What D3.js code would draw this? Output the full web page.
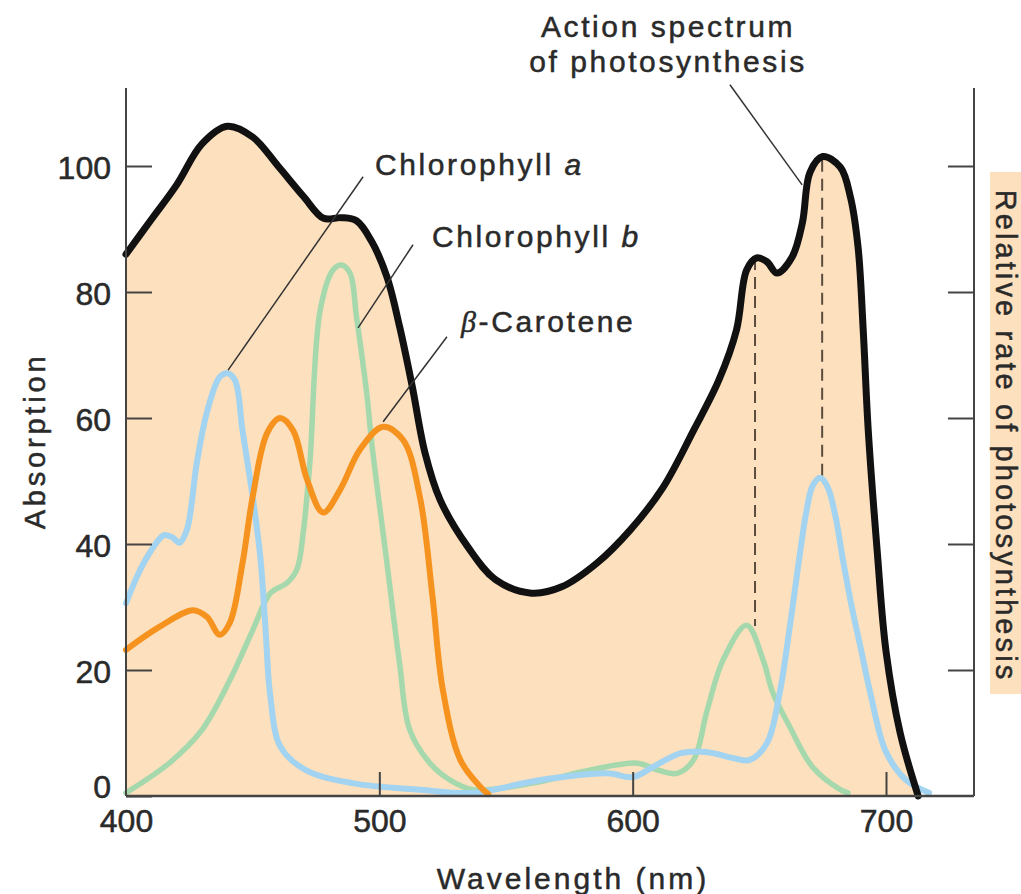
<!DOCTYPE html>
<html>
<head>
<meta charset="utf-8">
<script src="https://cdn.jsdelivr.net/npm/d3@7"></script>
<style>
  body { margin: 0; background: #fff; }
  text { font-family: "Liberation Sans", Arial, sans-serif; fill: #2a2a2a; stroke: #2a2a2a; stroke-width: 0.5px; }
</style>
</head>
<body>
<svg id="chart" width="1021" height="894"></svg>
<script>
// wavelength (nm), absorption / relative rate
const actionSpectrum = [
  [400, 86], [410, 91.5], [420, 97], [430, 103.5], [440, 106.3], [450, 104.6],
  [460, 100], [470, 95.2], [478, 91.7], [485, 91.8], [491, 91.3], [497, 88],
  [503, 82.4], [508, 74.5], [513, 65], [518, 54.5], [524, 47], [535, 39.5],
  [546, 34.3], [560, 32.2], [572, 33.2], [586, 37], [599, 42.2], [612, 49],
  [624, 58], [634, 66], [641, 74], [645, 83.5], [649, 85.4], [653, 84.8],
  [657, 83], [663, 85.6], [667, 91], [670, 99], [675, 101.5], [682, 99.8],
  [686, 95], [689, 87], [691, 74], [693, 58], [696.5, 39], [700, 23],
  [705.6, 10], [712.7, 0]
];

const chlorophyllA = [
  [400, 30.6], [405, 35.4], [410, 39], [415, 41.4], [418.5, 41], [421, 40.2],
  [424, 42.2], [428, 53], [432, 61], [437, 66.5], [440, 67.1], [443, 66],
  [446, 58], [450, 47.5], [453, 38], [455, 27], [457, 15.7],
  [461, 7.8], [471, 4.1], [490, 2], [516, 1], [537, 0.5], [563, 2.5],
  [590, 3.6], [600, 3], [608, 4.6], [619, 6.8], [629, 7], [640, 6],
  [646, 5.7], [653, 8.4], [658, 16.3], [662, 26.8], [665.5, 37], [668.5, 45],
  [671, 49.2], [674, 50.5], [677, 49], [680, 44.5], [683, 37.5], [686.5, 30],
  [690, 23.5], [694, 16], [700, 7], [708, 2.5], [717, 0.5]
];

const chlorophyllB = [
  [400, 0.5], [417, 5.2], [430, 10.5], [441, 18.4], [450, 26.3], [457, 32.2],
  [463.5, 33.8], [467.5, 36], [470, 42], [472.6, 53], [476.6, 77], [481.7, 83.5],
  [485, 84.3], [488.4, 83], [491, 76], [495, 64], [497, 56], [503, 37],
  [508, 21], [512, 10.5], [520, 5.2], [528, 2.5], [537, 1], [560, 2],
  [583, 4.1], [602, 5.2], [610, 4.1], [617.5, 3.6], [624, 5.7], [629.4, 13.6],
  [635.7, 21.6], [645, 27.1], [651.5, 21.6], [655.4, 16.3], [662, 11],
  [671, 4.6], [682, 1], [685, 0.5]
];

const betaCarotene = [
  [400, 23.2], [413, 26.8], [426.5, 29.5], [432, 28.4], [437, 25.6], [441, 27.5],
  [446, 37], [450, 47.5], [455.7, 57.6], [460.8, 60], [466, 58], [471.5, 50.2],
  [477.8, 45], [484.5, 48.6], [492.4, 55], [501.5, 58.6], [509.4, 56.5],
  [516, 47.5], [521, 31.6], [525, 17], [532, 5.7], [540, 1.4], [543, 0.3]
];

// dashed drop lines: [wavelength, top, bottom]
const dropLines = [[648.3, 85.4, 27], [674.8, 101, 50.5]];

const xTicks = [400, 500, 600, 700];
const yTicks = [0, 20, 40, 60, 80, 100];

const svg = d3.select("#chart");

const x = d3.scaleLinear().domain([400, 700]).range([126, 886]);
const y = d3.scaleLinear().domain([0, 100]).range([796, 166]);
const xMax = x.invert(974);

const peach = "#fde0bd";
const curve = d3.curveCatmullRom.alpha(0.5);

// shaded area under the action spectrum
const area = d3.area()
  .x((d) => x(d[0]))
  .y0(y(0))
  .y1((d) => y(d[1]))
  .curve(curve);

svg.append("path")
  .datum(actionSpectrum)
  .attr("d", area)
  .attr("fill", peach);

// dashed lines
svg.selectAll(".drop")
  .data(dropLines)
  .enter()
  .append("line")
  .attr("class", "drop")
  .attr("x1", (d) => x(d[0]))
  .attr("x2", (d) => x(d[0]))
  .attr("y1", (d) => y(d[1]))
  .attr("y2", (d) => y(d[2]))
  .attr("stroke", "#5b4c40")
  .attr("stroke-width", 2)
  .attr("stroke-dasharray", "12,7");

const line = d3.line()
  .x((d) => x(d[0]))
  .y((d) => y(d[1]))
  .curve(curve);

const series = [
  { data: chlorophyllB, color: "#a6d8ad", width: 5.5 },
  { data: chlorophyllA, color: "#a2d3f0", width: 6 },
  { data: betaCarotene, color: "#f6921e", width: 6 },
  { data: actionSpectrum, color: "#111", width: 7 },
];

series.forEach((s) => {
  svg.append("path")
    .datum(s.data)
    .attr("d", line)
    .attr("fill", "none")
    .attr("stroke", s.color)
    .attr("stroke-width", s.width)
    .attr("stroke-linejoin", "round")
    .attr("stroke-linecap", "round");
});

// axes
const axisColor = "#444";
const yAxis = d3.axisLeft(y)
  .tickValues(yTicks)
  .tickSizeInner(-26)
  .tickSizeOuter(0)
  .tickPadding(15);

const gLeft = svg.append("g").attr("transform", "translate(126,0)").call(yAxis);
gLeft.select(".domain").remove();
gLeft.append("line").attr("y1", y(0)).attr("y2", 88).attr("stroke", axisColor).attr("stroke-width", 2);
gLeft.selectAll(".tick line").attr("stroke", axisColor).attr("stroke-width", 2);
gLeft.selectAll(".tick text")
  .style("font-size", "32px")
  .attr("fill", "#2a2a2a")
  .attr("dy", (d) => (d === 0 ? "0.05em" : "0.4em"));

const gRight = svg.append("g").attr("transform", "translate(974,0)")
  .call(d3.axisRight(y).tickValues(yTicks.slice(1)).tickSizeInner(-26).tickSizeOuter(0).tickFormat(""));
gRight.select(".domain").remove();
gRight.append("line").attr("y1", y(0)).attr("y2", 88).attr("stroke", axisColor).attr("stroke-width", 2);
gRight.selectAll(".tick line").attr("stroke", axisColor).attr("stroke-width", 2);

const gBottom = svg.append("g").attr("transform", `translate(0,${y(0)})`)
  .call(d3.axisBottom(x).tickValues(xTicks).tickSizeInner(-24).tickSizeOuter(0).tickPadding(13));
gBottom.select(".domain").remove();
gBottom.append("line").attr("x1", 126).attr("x2", x(xMax)).attr("stroke", axisColor).attr("stroke-width", 2.5);
gBottom.selectAll(".tick line").attr("stroke", axisColor).attr("stroke-width", 2)
  .filter((d) => d === 400).remove();
gBottom.selectAll(".tick text").style("font-size", "32px").attr("fill", "#2a2a2a");

// axis titles
svg.append("text")
  .attr("transform", "translate(45,441) rotate(-90)")
  .attr("text-anchor", "middle")
  .style("font-size", "29px")
  .style("letter-spacing", "3.8px")
  .text("Absorption");

svg.append("text")
  .attr("x", 573)
  .attr("y", 889)
  .attr("text-anchor", "middle")
  .style("font-size", "30px")
  .style("letter-spacing", "3px")
  .text("Wavelength (nm)");

svg.append("rect")
  .attr("x", 990).attr("y", 172).attr("width", 31).attr("height", 522)
  .attr("fill", peach);

svg.append("text")
  .attr("transform", "translate(996,436) rotate(90)")
  .attr("text-anchor", "middle")
  .style("font-size", "29px")
  .style("letter-spacing", "3.1px")
  .text("Relative rate of photosynthesis");

// annotations
const labels = [
  { lines: ["Action spectrum", "of photosynthesis"], x: 668, y: 37, anchor: "middle" },
  { lines: ["Chlorophyll |a"], x: 375, y: 175, anchor: "start" },
  { lines: ["Chlorophyll |b"], x: 432, y: 247, anchor: "start" },
  { lines: ["β|-Carotene"], x: 461, y: 332, anchor: "start" },
];

labels.forEach((l) => {
  l.lines.forEach((txt, i) => {
    const t = svg.append("text")
      .attr("x", l.x)
      .attr("y", l.y + i * 35)
      .attr("text-anchor", l.anchor)
      .style("font-size", "30px")
      .style("letter-spacing", "2.6px");
    const parts = txt.split("|");
    if (parts.length === 1) {
      t.text(txt);
    } else if (parts[0] === "β") {
      t.append("tspan").style("font-style", "italic").style("font-family", "'Liberation Serif', serif").text("β");
      t.append("tspan").text(parts[1]);
    } else {
      t.append("tspan").text(parts[0]);
      t.append("tspan").style("font-style", "italic").text(parts[1]);
    }
  });
});

// leader lines in data units: [from, to]
const leaders = [
  [[638.4, 112.9], [666.9, 97]],
  [[493.6, 98.3], [440.3, 67.6]],
  [[513.3, 87.5], [491.6, 74.3]],
  [[526.7, 72.9], [501.5, 59.4]],
];

svg.selectAll(".leader")
  .data(leaders)
  .enter()
  .append("line")
  .attr("class", "leader")
  .attr("x1", (d) => x(d[0][0]))
  .attr("y1", (d) => y(d[0][1]))
  .attr("x2", (d) => x(d[1][0]))
  .attr("y2", (d) => y(d[1][1]))
  .attr("stroke", "#333")
  .attr("stroke-width", 1.5);
</script>
</body>
</html>
